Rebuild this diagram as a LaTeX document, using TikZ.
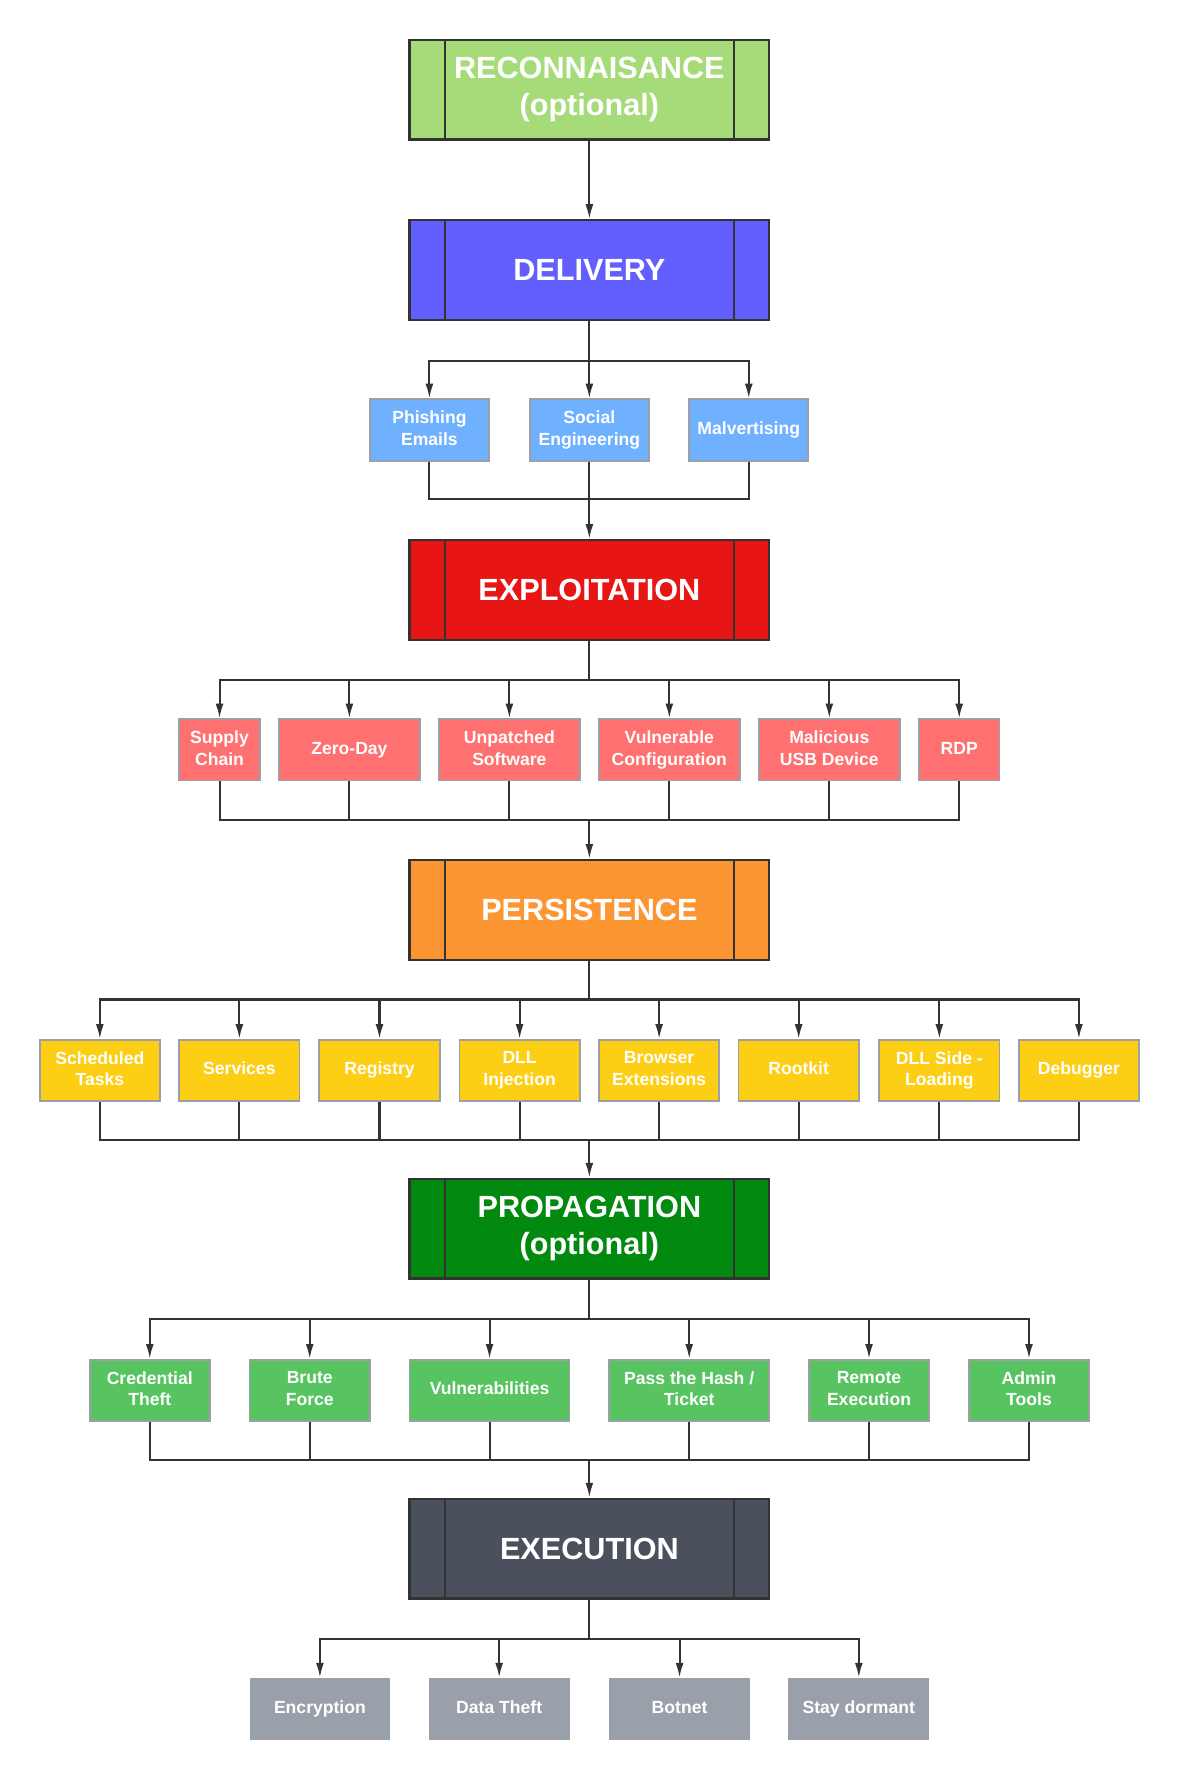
\documentclass[tikz,border=0pt]{standalone}
\usepackage{fontspec}
\setmainfont{Liberation Sans}
\usetikzlibrary{arrows.meta}
\definecolor{reconGreen}{HTML}{A6DB79}
\definecolor{delivBlue}{HTML}{635FFF}
\definecolor{delivTask}{HTML}{70B1FF}
\definecolor{exploitRed}{HTML}{E81515}
\definecolor{exploitTask}{HTML}{FF7070}
\definecolor{persistOrange}{HTML}{FC9633}
\definecolor{persistTask}{HTML}{FCCE14}
\definecolor{propagGreen}{HTML}{02890F}
\definecolor{propagTask}{HTML}{57C461}
\definecolor{execGray}{HTML}{4B515C}
\definecolor{execTask}{HTML}{9AA0A9}
\definecolor{lineGray}{HTML}{333333}
\definecolor{taskBorder}{HTML}{9B9FA8}

\begin{document}
\begin{tikzpicture}[x=1pt,y=-1pt]
        \tikzset{stage/.style = {draw=lineGray,line width=2pt,minimum width=317pt,minimum height=88pt,inner sep=0pt,
                 align=center,text=white,font=\fontsize{27}{33}\selectfont\bfseries}}
        \tikzset{task/.style = {draw=taskBorder,line width=1.6pt,minimum height=54pt,inner sep=0pt,
                 align=center,text=white,font=\fontsize{15.5}{19}\selectfont\bfseries,
                 execute at end node={\rule[-3.3pt]{0pt}{3.3pt}}}}
        \tikzset{link/.style = {draw=lineGray,line width=1.8pt}}
        \tikzset{edge/.style = {link,->,> = {Latex[length=13pt,width=7pt]}}}
        \useasboundingbox (0,0) rectangle (1040,1569);
        % stages
        \node[stage,fill=reconGreen]    (recon)   at (519.5,79)   {RECONNAISANCE\\(optional)};
        \node[stage,fill=delivBlue]     (deliv)   at (519.5,238)  {DELIVERY};
        \node[stage,fill=exploitRed]    (exploit) at (519.5,520)  {EXPLOITATION};
        \node[stage,fill=persistOrange] (persist) at (519.5,802)  {PERSISTENCE};
        \node[stage,fill=propagGreen]   (propag)  at (519.5,1083) {PROPAGATION\\(optional)};
        \node[stage,fill=execGray]      (exec)    at (519.5,1365) {EXECUTION};
        \foreach \n in {recon,deliv,exploit,persist,propag,exec} {
          \draw[lineGray,line width=1.5pt] ([xshift=32pt]\n.north west) -- ([xshift=32pt]\n.south west);
          \draw[lineGray,line width=1.5pt] ([xshift=-32pt]\n.north east) -- ([xshift=-32pt]\n.south east);
        }
        % delivery tasks
        \node[task,fill=delivTask,minimum width=105pt] (phish)  at (378.5,379) {Phishing\\Emails};
        \node[task,fill=delivTask,minimum width=105pt] (social) at (519.5,379) {Social\\Engineering};
        \node[task,fill=delivTask,minimum width=105pt] (malv)   at (660,379)   {Malvertising};
        % exploitation tasks
        \node[task,fill=exploitTask,minimum width=71pt]  (supply) at (193.5,661) {Supply\\Chain};
        \node[task,fill=exploitTask,minimum width=124pt] (zero)   at (308,661)   {Zero-Day};
        \node[task,fill=exploitTask,minimum width=124pt] (unpat)  at (449,661)   {Unpatched\\Software};
        \node[task,fill=exploitTask,minimum width=124pt] (vulcfg) at (590,661)   {Vulnerable\\Configuration};
        \node[task,fill=exploitTask,minimum width=124pt] (usb)    at (731,661)   {Malicious\\USB Device};
        \node[task,fill=exploitTask,minimum width=71pt]  (rdp)    at (845.5,661) {RDP};
        % persistence tasks
        \node[task,fill=persistTask,minimum width=106pt] (sched)   at (88,943.5)    {Scheduled\\Tasks};
        \node[task,fill=persistTask,minimum width=106pt] (serv)    at (211,943.5)   {Services};
        \node[task,fill=persistTask,minimum width=106pt] (reg)     at (334.5,943.5) {Registry};
        \node[task,fill=persistTask,minimum width=106pt] (dllinj)  at (458,943.5)   {DLL\\Injection};
        \node[task,fill=persistTask,minimum width=106pt] (browser) at (581,943.5)   {Browser\\Extensions};
        \node[task,fill=persistTask,minimum width=106pt] (rootkit) at (704,943.5)   {Rootkit};
        \node[task,fill=persistTask,minimum width=106pt] (dllside) at (828,943.5)   {DLL Side -\\Loading};
        \node[task,fill=persistTask,minimum width=106pt] (debug)   at (951,943.5)   {Debugger};
        % propagation tasks
        \node[task,fill=propagTask,minimum width=106pt] (cred)   at (132,1225.5)   {Credential\\Theft};
        \node[task,fill=propagTask,minimum width=106pt] (brute)  at (273,1225.5)   {Brute\\Force};
        \node[task,fill=propagTask,minimum width=141pt] (vulns)  at (431.5,1225.5) {Vulnerabilities};
        \node[task,fill=propagTask,minimum width=141pt] (pth)    at (607.5,1225.5) {Pass the Hash /\\Ticket};
        \node[task,fill=propagTask,minimum width=106pt] (remote) at (766,1225.5)   {Remote\\Execution};
        \node[task,fill=propagTask,minimum width=106pt] (admin)  at (907,1225.5)   {Admin\\Tools};
        % execution tasks
        \node[task,fill=execTask,draw=none,minimum width=124pt] (encr)    at (282,1506.5) {Encryption};
        \node[task,fill=execTask,draw=none,minimum width=124pt] (data)    at (440,1506.5) {Data Theft};
        \node[task,fill=execTask,draw=none,minimum width=124pt] (botnet)  at (599,1506.5) {Botnet};
        \node[task,fill=execTask,draw=none,minimum width=124pt] (dormant) at (757,1506.5) {Stay dormant};
        % junctions
        \coordinate (dsplit) at (519.5,318);
        \coordinate (dmerge) at (519.5,440);
        \coordinate (xsplit) at (519.5,599);
        \coordinate (xmerge) at (519.5,723);
        \coordinate (psplit) at (519.5,881);
        \coordinate (pmerge) at (519.5,1005);
        \coordinate (gsplit) at (519.5,1163);
        \coordinate (gmerge) at (519.5,1287);
        \coordinate (esplit) at (519.5,1445);
        %edges
        \draw[edge] (recon) -- (deliv);
        \draw[link] (deliv) -- (dsplit);
        \foreach \t in {phish,social,malv} {
          \draw[edge] (dsplit) -| (\t);
          \draw[link] (\t) |- (dmerge);
        }
        \draw[edge] (dmerge) -- (exploit);
        \draw[link] (exploit) -- (xsplit);
        \foreach \t in {supply,zero,unpat,vulcfg,usb,rdp} {
          \draw[edge] (xsplit) -| (\t);
          \draw[link] (\t) |- (xmerge);
        }
        \draw[edge] (xmerge) -- (persist);
        \draw[link] (persist) -- (psplit);
        \foreach \t in {sched,serv,reg,dllinj,browser,rootkit,dllside,debug} {
          \draw[edge] (psplit) -| (\t);
          \draw[link] (\t) |- (pmerge);
        }
        \draw[edge] (pmerge) -- (propag);
        \draw[link] (propag) -- (gsplit);
        \foreach \t in {cred,brute,vulns,pth,remote,admin} {
          \draw[edge] (gsplit) -| (\t);
          \draw[link] (\t) |- (gmerge);
        }
        \draw[edge] (gmerge) -- (exec);
        \draw[link] (exec) -- (esplit);
        \foreach \t in {encr,data,botnet,dormant} {
          \draw[edge] (esplit) -| (\t);
        }
        \end{tikzpicture}
\end{document}
